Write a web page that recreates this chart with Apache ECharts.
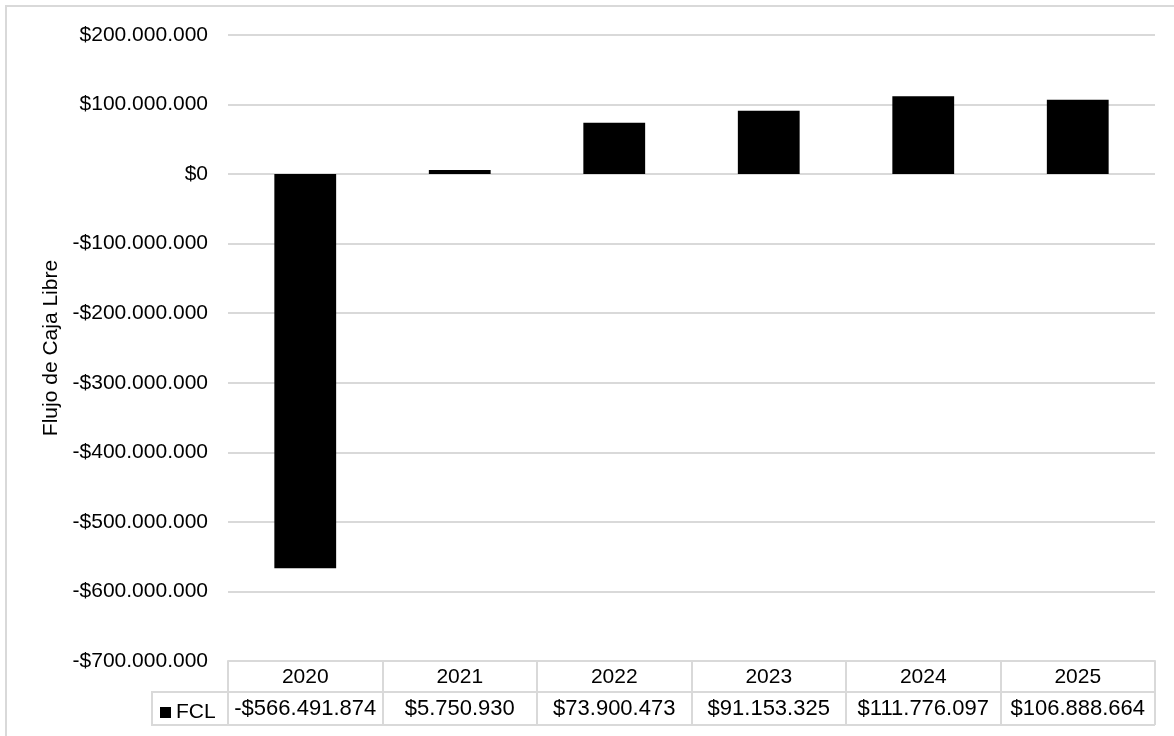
<!DOCTYPE html>
<html>
<head>
<meta charset="utf-8">
<script src="https://cdn.jsdelivr.net/npm/echarts@6/dist/echarts.min.js"></script>
<style>html,body{margin:0;padding:0;background:#fff;}#c{width:1174px;height:736px;}</style>
</head>
<body>
<div id="c"></div>
<script>
const categories = ['2020', '2021', '2022', '2023', '2024', '2025'];
const seriesName = 'FCL';
const fclValues = [-566491874, 5750930, 73900473, 91153325, 111776097, 106888664];
const yAxisTitle = 'Flujo de Caja Libre';
const yMin = -700000000, yMax = 200000000, yStep = 100000000;

function money(v) {
  const s = Math.abs(Math.round(v)).toString().replace(/\B(?=(\d{3})+(?!\d))/g, '.');
  return (v < 0 ? '-$' : '$') + s;
}
const FONT = "'Liberation Sans', Arial, sans-serif";
const GRID = '#d9d9d9';
const chart = echarts.init(document.getElementById('c'));
chart.setOption({
  animation: false,
  textStyle: { fontFamily: FONT },
  grid: { left: 228, right: 19, top: 35, bottom: 75, containLabel: false },
  legend: {
    data: [{ name: seriesName, icon: 'rect' }],
    left: 155, top: 697, itemWidth: 11, itemHeight: 11, itemGap: 4,
    textStyle: { fontSize: 21, color: '#000', fontFamily: FONT },
    selectedMode: false
  },
  xAxis: [{
    type: 'category', data: categories, position: 'bottom',
    axisLine: { show: true, onZero: false, lineStyle: { color: GRID, width: 2 } },
    axisTick: { show: true, length: 64, interval: 0, lineStyle: { color: GRID, width: 2 } },
    axisLabel: { margin: 6, interval: 0, fontSize: 21, color: '#000', fontFamily: FONT }
  }, {
    type: 'category', data: fclValues.map(money), position: 'bottom', offset: 31,
    axisLine: { show: true, onZero: false, lineStyle: { color: GRID, width: 2 } },
    axisTick: { show: false },
    axisLabel: { margin: 6, interval: 0, fontSize: 22, color: '#000', fontFamily: FONT }
  }],
  yAxis: {
    type: 'value', min: yMin, max: yMax, interval: yStep,
    name: yAxisTitle, nameLocation: 'middle', nameRotate: 90, nameGap: 163,
    nameTextStyle: { fontSize: 21, color: '#000', fontFamily: FONT },
    axisLine: { show: false }, axisTick: { show: false },
    axisLabel: { margin: 20, fontSize: 21, color: '#000', fontFamily: FONT, formatter: money },
    splitLine: { lineStyle: { color: GRID, width: 2 } }
  },
  series: [{
    name: seriesName, type: 'bar', data: fclValues, barWidth: '40%',
    itemStyle: { color: '#000' }
  }],
  graphic: [
    { type: 'rect', shape: { x: 6, y: 6, width: 1200, height: 800 }, style: { fill: 'none', stroke: GRID, lineWidth: 2 }, silent: true },
    { type: 'line', shape: { x1: 152, y1: 692, x2: 228, y2: 692 }, style: { stroke: GRID, lineWidth: 2 } },
    { type: 'line', shape: { x1: 152, y1: 725, x2: 1155, y2: 725 }, style: { stroke: GRID, lineWidth: 2 } },
    { type: 'line', shape: { x1: 152, y1: 691, x2: 152, y2: 726 }, style: { stroke: GRID, lineWidth: 2 } }
  ]
});
</script>
</body>
</html>
